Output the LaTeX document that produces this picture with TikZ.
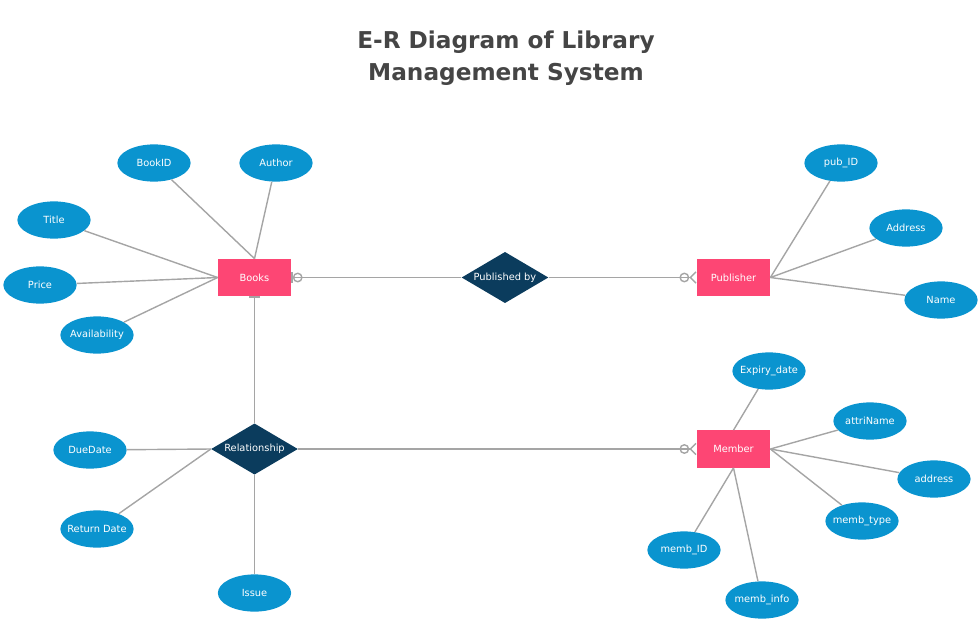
\documentclass[tikz,border=0pt]{standalone}
\usepackage{fontspec}
\setmainfont{DejaVu Sans}
\usetikzlibrary{shapes.geometric,arrows.meta}
\definecolor{entpink}{HTML}{FD4674}
\definecolor{relnavy}{HTML}{0B3C5D}
\definecolor{attblue}{HTML}{0A94CF}
\definecolor{lnkgray}{HTML}{A5A5A5}
\definecolor{titlegray}{HTML}{454545}

\begin{document}
\begin{tikzpicture}[x=0.025cm,y=-0.025cm,
  ent/.style={fill=entpink,minimum width=1.83cm,minimum height=0.93cm,inner sep=0pt,text=white,font=\fontsize{7}{8}\selectfont},
  rel/.style={diamond,aspect=1.7,fill=relnavy,minimum width=2.17cm,minimum height=1.28cm,inner sep=0pt,text=white,font=\fontsize{7}{8}\selectfont},
  att/.style={ellipse,fill=attblue,minimum width=1.83cm,minimum height=0.93cm,inner xsep=-3pt,inner ysep=0pt,text=white,font=\fontsize{7}{8}\selectfont},
  lnk/.style={draw=lnkgray,line width=1pt},
  onezero/.style={{Bar[width=7.5pt,line width=1pt]Circle[open,length=7pt,line width=1pt]}-},
  manyzero/.style={-{Circle[open,length=7pt,line width=1pt]Straight Barb[reversed,length=4pt,width=8pt,line width=1pt]}}]
  \useasboundingbox (0,0) rectangle (980,620);
  \node[font=\bfseries\fontsize{16.5}{22.8}\selectfont,text=titlegray,align=center] (title) at (506,58) {E-R Diagram of Library\\Management System};
  % entities and relationships
  \node[ent] (books) at (254.5,277.5) {Books};
  \node[ent] (publisher) at (733.5,277.5) {Publisher};
  \node[ent] (member) at (733.5,449) {Member};
  \node[rel] (pubby) at (505,277.5) {Published by};
  \node[rel] (relship) at (254.5,449) {Relationship};
  % attributes
  \node[att] (bookid) at (154,163) {BookID};
  \node[att] (author) at (276,163) {Author};
  \node[att] (title2) at (54,220) {Title};
  \node[att] (price) at (40,285) {Price};
  \node[att] (avail) at (97,335) {Availability};
  \node[att] (pubid) at (841,163) {pub\_ID};
  \node[att] (address) at (906,228) {Address};
  \node[att] (name) at (941,300) {Name};
  \node[att] (expiry) at (769,371) {Expiry\_date};
  \node[att] (attriname) at (870,421) {attriName};
  \node[att] (maddress) at (934,479) {address};
  \node[att] (membtype) at (862,521) {memb\_type};
  \node[att] (membid) at (684,550) {memb\_ID};
  \node[att] (membinfo) at (762,600) {memb\_info};
  \node[att] (duedate) at (90,450) {DueDate};
  \node[att] (retdate) at (97,529) {Return Date};
  \node[att] (issue) at (254.5,593) {Issue};
  % attribute links
  \draw[lnk] (bookid) -- (books.north);
  \draw[lnk] (author) -- (books.north);
  \draw[lnk] (title2) -- (books.west);
  \draw[lnk] (price) -- (books.west);
  \draw[lnk] (avail) -- (books.west);
  \draw[lnk] (pubid) -- (publisher.east);
  \draw[lnk] (address) -- (publisher.east);
  \draw[lnk] (name) -- (publisher.east);
  \draw[lnk] (expiry) -- (member.north);
  \draw[lnk] (attriname) -- (member.east);
  \draw[lnk] (maddress) -- (member.east);
  \draw[lnk] (membtype) -- (member.east);
  \draw[lnk] (membid) -- (member.south);
  \draw[lnk] (membinfo) -- (member.south);
  \draw[lnk] (duedate) -- (relship.west);
  \draw[lnk] (retdate) -- (relship.west);
  \draw[lnk] (issue) -- (relship.south);
  % relationship links
  \draw[lnk,onezero] (books.east) -- (pubby.west);
  \draw[lnk,manyzero] (pubby.east) -- (publisher.west);
  \draw[lnk,{Bar[width=7.5pt,line width=1pt]}-] (books.south) -- (relship.north);
  \draw[lnk,manyzero] (relship.east) -- (member.west);
\end{tikzpicture}
\end{document}
